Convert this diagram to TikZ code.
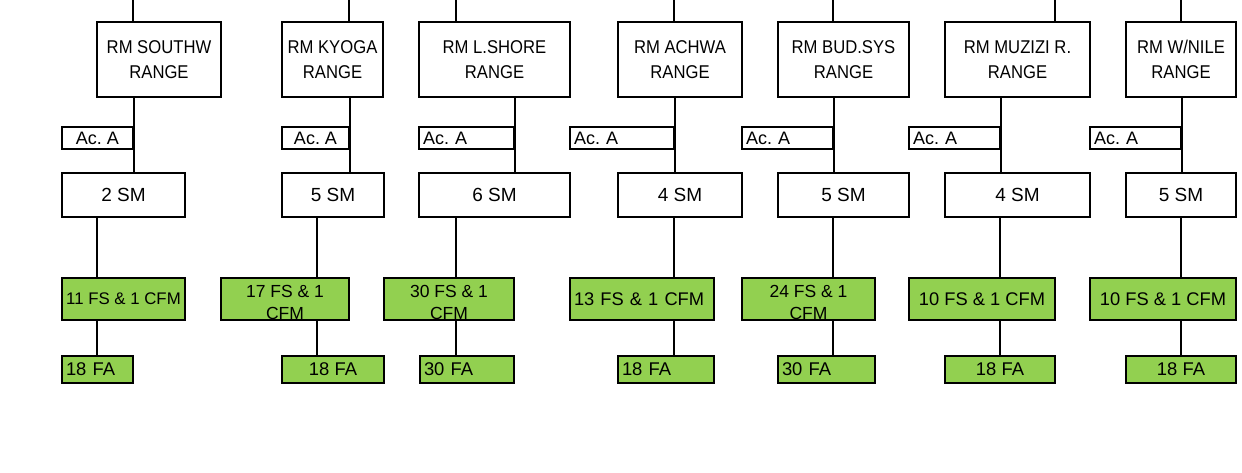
\documentclass[tikz,border=0pt]{standalone}
\usepackage{fontspec}
\setmainfont{Liberation Sans}
\newfontfamily\narrowfont[FakeStretch=0.9]{Liberation Sans}
\definecolor{fsgreen}{HTML}{92D050}
\frenchspacing
\newcommand{\lowstrut}{\rule{0pt}{19pt}}
\begin{document}
\begin{tikzpicture}[
    x=1pt, y=-1pt,
    line width=1.5pt,
    box/.style={rectangle, draw, inner sep=0pt, minimum width=#1},
    rmbox/.style={box=#1, minimum height=75, align=center, font=\narrowfont\fontsize{18.5}{25}\selectfont},
    acbox/.style={box=#1, minimum height=22, font=\fontsize{18}{20}\selectfont},
    smbox/.style={box=#1, minimum height=44, font=\fontsize{19}{21}\selectfont},
    fsbox/.style={box=#1, minimum height=42, fill=fsgreen, align=center, font=\fontsize{18.3}{23}\selectfont},
    twolines/.style={font=\fontsize{17.5}{22.5}\selectfont},
    fabox/.style={box=#1, minimum height=27, fill=fsgreen, font=\fontsize{18.4}{20}\selectfont},
    lft/.style={inner xsep=4pt, text width=#1, align=left}
]
    \useasboundingbox (0,0) rectangle (1242,472);

    % ranges
    \node[rmbox=124] (rm1) at (159,59.5) {RM SOUTHW\\RANGE};
    \node[rmbox=101] (rm2) at (332.5,59.5) {RM KYOGA\\RANGE};
    \node[rmbox=151] (rm3) at (494.5,59.5) {RM L.SHORE\\RANGE};
    \node[rmbox=124] (rm4) at (680,59.5) {RM ACHWA\\RANGE};
    \node[rmbox=131] (rm5) at (843.5,59.5) {RM BUD.SYS\\RANGE};
    \node[rmbox=145] (rm6) at (1017.5,59.5) {RM MUZIZI R.\\RANGE};
    \node[rmbox=110] (rm7) at (1181,59.5) {RM W/NILE\\RANGE};

    % Ac. A
    \node[acbox=71] (acc1) at (97.5,138) {Ac. A};
    \node[acbox=67] (acc2) at (315.5,138) {Ac. A};
    \node[acbox=95, lft=87] (acc3) at (466.5,138) {Ac. A};
    \node[acbox=104, lft=96] (acc4) at (622,138) {Ac. A};
    \node[acbox=91, lft=83] (acc5) at (787.5,138) {Ac. A};
    \node[acbox=91, lft=83] (acc6) at (954.5,138) {Ac. A};
    \node[acbox=91, lft=83] (acc7) at (1135.5,138) {Ac. A};

    % SM
    \node[smbox=123] (sm1) at (123.5,195) {2 SM};
    \node[smbox=102] (sm2) at (333,195) {5 SM};
    \node[smbox=151] (sm3) at (494.5,195) {6 SM};
    \node[smbox=124] (sm4) at (680,195) {4 SM};
    \node[smbox=131] (sm5) at (843.5,195) {5 SM};
    \node[smbox=145] (sm6) at (1017.5,195) {4 SM};
    \node[smbox=110] (sm7) at (1181,195) {5 SM};

    % FS
    \node[fsbox=123, font=\fontsize{16.8}{20}\selectfont] (fs1) at (123.5,299) {11 FS \& 1 CFM};
    \node[fsbox=128, twolines] (fs2) at (285,299) {\lowstrut 17 FS \& 1\\CFM};
    \node[fsbox=130, twolines] (fs3) at (449,299) {\lowstrut 30 FS \& 1\\CFM};
    \node[fsbox=144, lft=136] (fs4) at (642,299) {13 FS \& 1 CFM};
    \node[fsbox=133, twolines] (fs5) at (808.5,299) {\lowstrut 24 FS \& 1\\CFM};
    \node[fsbox=146] (fs6) at (982,299) {10 FS \& 1 CFM};
    \node[fsbox=146] (fs7) at (1163,299) {10 FS \& 1 CFM};

    % FA
    \node[fabox=71, lft=63] (fa1) at (97.5,369.5) {18 FA};
    \node[fabox=102] (fa2) at (333,369.5) {18 FA};
    \node[fabox=94, lft=86] (fa3) at (467,369.5) {30 FA};
    \node[fabox=96, lft=88] (fa4) at (666,369.5) {18 FA};
    \node[fabox=97, lft=89] (fa5) at (826.5,369.5) {30 FA};
    \node[fabox=110] (fa6) at (1000,369.5) {18 FA};
    \node[fabox=110] (fa7) at (1181,369.5) {18 FA};

    % line ends
    \coordinate (t1) at (133,0);  \coordinate (b1) at (97,0);
    \coordinate (t2) at (349,0);  \coordinate (b2) at (317,0);
    \coordinate (t3) at (456,0);  \coordinate (b3) at (456,0);
    \coordinate (t4) at (674,0);  \coordinate (b4) at (674,0);
    \coordinate (t5) at (833,0);  \coordinate (b5) at (833,0);
    \coordinate (t6) at (1055,0); \coordinate (b6) at (1000,0);
    \coordinate (t7) at (1181,0); \coordinate (b7) at (1181,0);

    \draw (t1) -- (t1 |- rm1.north) (acc1.east |- rm1.south) -- (acc1.east |- sm1.north)
          (b1 |- sm1.south) -- (b1 |- fs1.north) (b1 |- fs1.south) -- (b1 |- fa1.north);
    \draw (t2) -- (t2 |- rm2.north) (acc2.east |- rm2.south) -- (acc2.east |- sm2.north)
          (b2 |- sm2.south) -- (b2 |- fs2.north) (b2 |- fs2.south) -- (b2 |- fa2.north);
    \draw (t3) -- (t3 |- rm3.north) (acc3.east |- rm3.south) -- (acc3.east |- sm3.north)
          (b3 |- sm3.south) -- (b3 |- fs3.north) (b3 |- fs3.south) -- (b3 |- fa3.north);
    \draw (t4) -- (t4 |- rm4.north) (acc4.east |- rm4.south) -- (acc4.east |- sm4.north)
          (b4 |- sm4.south) -- (b4 |- fs4.north) (b4 |- fs4.south) -- (b4 |- fa4.north);
    \draw (t5) -- (t5 |- rm5.north) (acc5.east |- rm5.south) -- (acc5.east |- sm5.north)
          (b5 |- sm5.south) -- (b5 |- fs5.north) (b5 |- fs5.south) -- (b5 |- fa5.north);
    \draw (t6) -- (t6 |- rm6.north) (acc6.east |- rm6.south) -- (acc6.east |- sm6.north)
          (b6 |- sm6.south) -- (b6 |- fs6.north) (b6 |- fs6.south) -- (b6 |- fa6.north);
    \draw (t7) -- (t7 |- rm7.north) (acc7.east |- rm7.south) -- (acc7.east |- sm7.north)
          (b7 |- sm7.south) -- (b7 |- fs7.north) (b7 |- fs7.south) -- (b7 |- fa7.north);
\end{tikzpicture}
\end{document}
